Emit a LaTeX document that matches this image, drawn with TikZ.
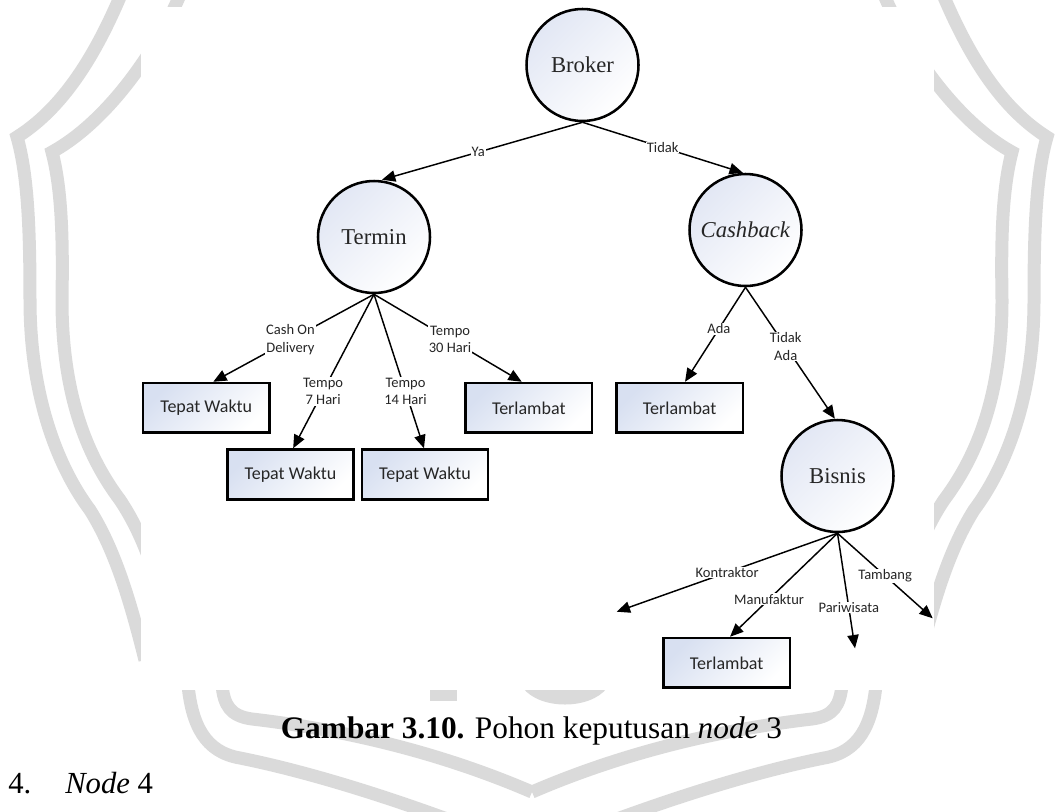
\documentclass[tikz,border=0pt]{standalone}
\usepackage{fontspec}
\setmainfont{Liberation Serif}
\newfontfamily\calibrifont{Carlito}
\usetikzlibrary{arrows.meta}
\definecolor{wmgray}{RGB}{218,218,218}
\definecolor{boxblue}{RGB}{216,224,241}
\definecolor{circblue}{RGB}{226,231,244}
\definecolor{inkgray}{RGB}{38,38,38}
\begin{document}
\begin{tikzpicture}[x=0.75pt,y=-0.75pt,
  decision/.style={circle, minimum size=84pt, inner sep=0pt, line width=1.9pt, draw=black,
    top color=circblue, bottom color=white, shading angle=45, text=inkgray,
    font=\fontsize{17}{20}\selectfont},
  leaf/.style={rectangle, minimum width=94.7pt, minimum height=37.2pt, inner sep=0pt,
    line width=2pt, draw=black, top color=boxblue, bottom color=white, shading angle=45,
    text=inkgray, font=\calibrifont\fontsize{13.5}{16}\selectfont},
  branch/.style={line width=1.1pt, -{Triangle[length=10pt,width=8.5pt]}},
  lbl/.style={fill=white, inner sep=0.6pt, align=center, text=inkgray,
    font=\calibrifont\fontsize{10.9}{13.3}\selectfont},
  band/.style={draw=wmgray, line width=9.75pt, line join=miter}
]
\useasboundingbox (0,0) rectangle (1059,811);

% faint emblem in the background (left half, then mirrored)
\foreach \mir in {0,1}{
  \begin{scope}[shift={(1064*\mir,0)}, xscale={1-2*\mir}]
    \draw[band] (123,-10) .. controls (100,45) and (68,105) .. (17,137)
      .. controls (28,175) and (30,230) .. (30,300)
      .. controls (30,400) and (60,470) .. (90,510)
      .. controls (115,550) and (130,600) .. (145,660);
    \draw[band] (182,-10) .. controls (160,45) and (110,120) .. (52,152)
      .. controls (62,190) and (63,240) .. (62,300)
      .. controls (62,400) and (90,460) .. (120,500)
      .. controls (140,530) and (150,560) .. (160,590);
    \draw[band] (222,685) .. controls (224,705) and (230,716) .. (252,719)
      .. controls (330,728) and (430,748) .. (532,792);
    \draw[band] (188,685) .. controls (192,725) and (205,752) .. (240,758)
      .. controls (320,774) and (425,808) .. (532,852);
  \end{scope}
}
% emblem details peeking out below the panel
\fill[wmgray] (430,688) rectangle (457,701);
\fill[wmgray] (523,688) .. controls (540,710) and (590,710) .. (607,688) -- cycle;

% white panel behind the tree
\fill[white] (141,7) rectangle (934,690);

% decision nodes
\node[decision] (broker) at (582.5,65) {Broker};
\node[decision] (termin) at (374,237) {Termin};
\node[decision] (cashback) at (745.5,230) {\textit{Cashback}};
\node[decision] (bisnis) at (837.5,476) {Bisnis};

% leaves
\node[leaf] (tw1) at (206.2,407.9) {Tepat Waktu};
\node[leaf] (tw2) at (290.5,474.4) {Tepat Waktu};
\node[leaf] (tw3) at (425,474.4) {Tepat Waktu};
\node[leaf] (tl1) at (528.8,407.9) {Terlambat};
\node[leaf] (tl2) at (679.7,407.9) {Terlambat};
\node[leaf] (tl3) at (726.7,662.9) {Terlambat};

% open branch ends
\coordinate (kon) at (616.7,611.7);
\coordinate (par) at (855,648.3);
\coordinate (tam) at (932.7,618.3);

% branches
\draw[branch] (broker.south) -- ([xshift=6pt]termin.north) node[lbl,pos=.52]{Ya};
\draw[branch] (broker.south) -- ([xshift=-2pt]cashback.north) node[lbl,pos=.5]{Tidak};
\draw[branch] (termin.south) -- ([xshift=5.3pt]tw1.north) node[lbl,pos=.52]{Cash On\\Delivery};
\draw[branch] (termin.south) -- ([xshift=2pt]tw2.north) node[lbl,pos=.63]{Tempo\\7 Hari};
\draw[branch] (termin.south) -- ([xshift=-0.75pt]tw3.north) node[lbl,pos=.63]{Tempo\\14 Hari};
\draw[branch] (termin.south) -- ([xshift=-5.3pt]tl1.north) node[lbl,pos=.515]{Tempo\\30 Hari};
\draw[branch] (cashback.south) -- ([xshift=4pt]tl2.north) node[lbl,pos=.44]{Ada};
\draw[branch] (cashback.south) -- ([xshift=-2pt]bisnis.north) node[lbl,pos=.45]{Tidak\\Ada};
\draw[branch] (bisnis.south) -- (kon) node[lbl,pos=.5]{Kontraktor};
\draw[branch] (bisnis.south) -- ([xshift=2.5pt]tl3.north) node[lbl,pos=.637]{Manufaktur};
\draw[branch] (bisnis.south) -- (par) node[lbl,pos=.644]{Pariwisata};
\draw[branch] (bisnis.south) -- (tam) node[lbl,pos=.5]{Tambang};

% caption and following item
\node[anchor=base, inner sep=0pt, font=\fontsize{23.5}{28}\selectfont] (cap) at (531.5,738)
  {\textbf{Gambar 3.10.} Pohon keputusan \textit{node} 3};
\node[anchor=base west, inner sep=0pt, font=\fontsize{23}{28}\selectfont] (num) at (8,793) {4.};
\node[anchor=base west, inner sep=0pt, font=\fontsize{23}{28}\selectfont] (item) at (65,793) {\textit{Node} 4};
\end{tikzpicture}
\end{document}
